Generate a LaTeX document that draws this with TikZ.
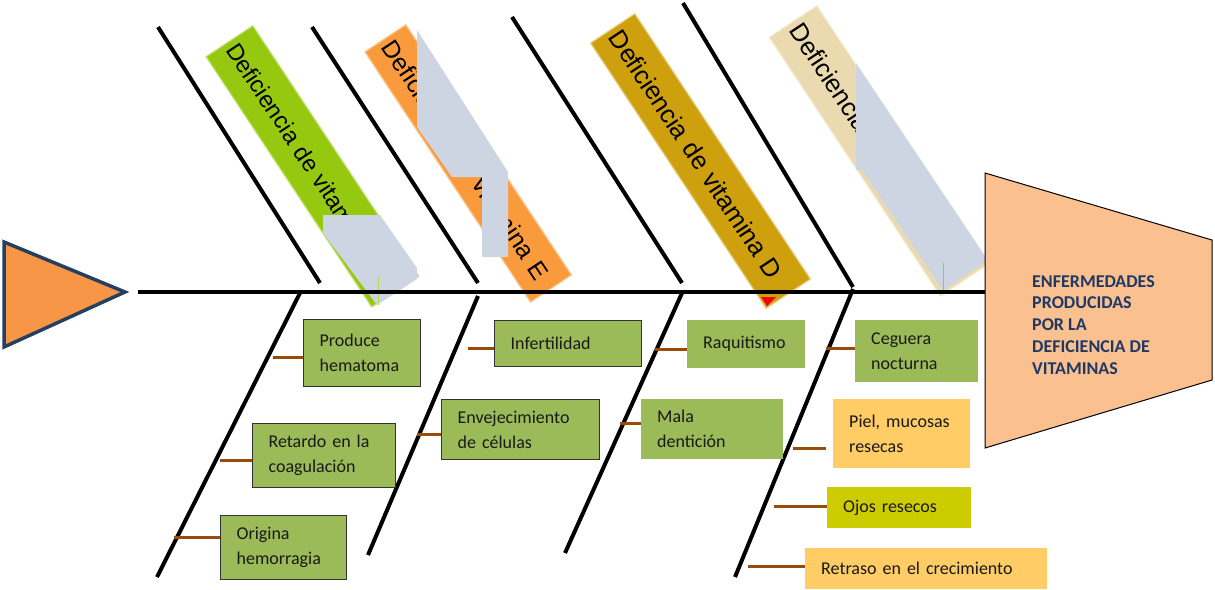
\documentclass[tikz,border=0pt]{standalone}
\usepackage{fontspec}
\setmainfont{Carlito}
\newfontfamily\headfont{Liberation Sans}
\definecolor{boxgreen}{HTML}{9BBB59}
\definecolor{tickbrown}{HTML}{994C0A}
\definecolor{labgreen}{HTML}{96C80F}
\definecolor{laborange}{HTML}{F99B3D}
\definecolor{labgold}{HTML}{CFA00D}
\definecolor{labbeige}{HTML}{EBDAB0}
\definecolor{patchgrey}{HTML}{CDD5E3}
\definecolor{lightorange}{HTML}{FFCC66}
\definecolor{olive}{HTML}{CCCC00}
\definecolor{headfill}{HTML}{FAC090}
\definecolor{headtext}{HTML}{1F3864}
\definecolor{tailfill}{HTML}{F79646}
\definecolor{tailedge}{HTML}{243F60}
\begin{document}
\begin{tikzpicture}[x=1pt,y=-1pt,
  cause/.style={anchor=north west, inner xsep=16pt, inner ysep=0pt, align=left,
    font=\fontsize{18}{25}\selectfont, text=black!90},
  framed/.style={draw=black!80, line width=1.2pt},
  header/.style={rotate=-56.5, anchor=north west, inner xsep=5pt, inner ysep=0pt,
    align=left, line width=1.2pt},
  bone/.style={line width=4pt},
  tick/.style={draw=tickbrown, line width=3pt},
  patch/.style={fill=patchgrey}]
\useasboundingbox (0,0) rectangle (1215,589);

% category headers
\node[header, fill=labgreen, draw=labgreen!60!white, text width=290pt, minimum height=56pt,
  font=\headfont\fontsize{23.5}{26}\selectfont] (hK) at (253,25) {Deficiencia de vitamina K};
\node[header, fill=laborange, draw=laborange!60!white, text width=290pt, minimum height=49pt,
  font=\headfont\fontsize{24.7}{26}\selectfont] (hE) at (406,24) {Deficiencia de vitamina E};
\node[header, fill=labgold, draw=labgold!55!white, text width=308pt, minimum height=53pt,
  font=\headfont\fontsize{25.5}{28}\selectfont] (hD) at (635,13) {Deficiencia de vitamina D};
\node[header, fill=labbeige, draw=labbeige!60!white, text width=300pt, minimum height=57pt,
  font=\headfont\fontsize{25.5}{28}\selectfont] (hA) at (817,5) {Deficiencia de vitamina A};
\fill[red] (761,297) -- (776,297) -- (767,306) -- cycle;

% grey patches over the headers
\fill[patch] (323,215) -- (380,215) -- (417,268) -- (417,279) -- (377,305) -- (323,233) -- cycle;
\draw[labgreen!70!white, line width=1pt] (378,277) -- (378,305);
\fill[patch] (417,30) -- (508,172) -- (508,257) -- (482,257) -- (482,177) -- (452,177) -- (417,127) -- cycle;
\fill[patch] (856,63) -- (985,256) -- (985,262) -- (943,290) -- (862,170) -- (856,170) -- cycle;
\draw[labbeige!80!black, line width=0.8pt] (943,263) -- (943,290);

% tail and head
\draw[line width=3.5pt, draw=tailedge, fill=tailfill] (4,242) -- (125,292) -- (4,347) -- cycle;
\coordinate (tailend) at (138,292);
\coordinate (headin) at (985,292);
\draw[line width=4.5pt] (tailend) -- (headin);
\draw[fill=headfill, line width=1pt] (985,173) -- (1212,240) -- (1212,380) -- (985,448) -- cycle;
\node[anchor=north west, inner sep=0pt, align=left, text=headtext,
  font=\bfseries\fontsize{18}{21.8}\selectfont] (effect) at (1032,275)
  {ENFERMEDADES\\PRODUCIDAS\\POR LA\\DEFICIENCIA DE\\VITAMINAS};

% upper bones
\coordinate (ua1) at (158,27);  \coordinate (ub1) at (320,283);
\coordinate (ua2) at (312,27);  \coordinate (ub2) at (478,283);
\coordinate (ua3) at (512,17);  \coordinate (ub3) at (682,283);
\coordinate (ua4) at (683,3);   \coordinate (ub4) at (853,287);
\foreach \i in {1,...,4} \draw[bone] (ua\i) -- (ub\i);

% lower bones
\coordinate (la1) at (300,293); \coordinate (lb1) at (157,577);
\coordinate (la2) at (478,296); \coordinate (lb2) at (368,555);
\coordinate (la3) at (682,293); \coordinate (lb3) at (565,553);
\coordinate (la4) at (853,289); \coordinate (lb4) at (735,577);
\foreach \i in {1,...,4} \draw[bone] (la\i) -- (lb\i);

% effects, vitamin K
\node[cause, fill=boxgreen, framed, text width=85pt, minimum height=67pt] (hematoma) at (303,319) {Produce\\hematoma};
\node[cause, fill=boxgreen, framed, text width=111pt, minimum height=64pt] (coag) at (252,423) {Retardo en la\\coagulación};
\node[cause, fill=boxgreen, framed, text width=94pt, minimum height=64pt] (hemo) at (220,515) {Origina\\hemorragia};
% effects, vitamin E
\node[cause, fill=boxgreen, framed, text width=115pt, minimum height=46pt] (infert) at (494,320) {Infertilidad};
\node[cause, fill=boxgreen, framed, text width=126pt, minimum height=60pt] (envej) at (441,399) {Envejecimiento\\de células};
% effects, vitamin D
\node[cause, fill=boxgreen, text width=86pt, minimum height=48pt] (raqui) at (687,320) {Raquitismo};
\node[cause, fill=boxgreen, text width=110pt, minimum height=60pt] (denti) at (641,399) {Mala\\dentición};
% effects, vitamin A
\node[cause, fill=boxgreen, text width=91pt, minimum height=62pt] (ceguera) at (855,320) {Ceguera\\nocturna};
\node[cause, fill=lightorange, text width=105pt, minimum height=69pt] (piel) at (833,399) {Piel, mucosas\\resecas};
\node[cause, fill=olive, text width=112pt, minimum height=41pt] (ojos) at (827,487) {Ojos resecos};
\node[cause, fill=lightorange, text width=210pt, minimum height=41pt] (creci) at (805,548) {Retraso en el crecimiento};

% ticks from bones to effects
\coordinate (k1) at (273,357);  \draw[tick] (k1) -- (k1 -| hematoma.west);
\coordinate (k2) at (220,460);  \draw[tick] (k2) -- (k2 -| coag.west);
\coordinate (k3) at (174,537);  \draw[tick] (k3) -- (k3 -| hemo.west);
\coordinate (k4) at (468,348);  \draw[tick] (k4) -- (k4 -| infert.west);
\coordinate (k5) at (417,434);  \draw[tick] (k5) -- (k5 -| envej.west);
\coordinate (k6) at (655,349);  \draw[tick] (k6) -- (k6 -| raqui.west);
\coordinate (k7) at (620,423);  \draw[tick] (k7) -- (k7 -| denti.west);
\coordinate (k8) at (826,348);  \draw[tick] (k8) -- (k8 -| ceguera.west);
\coordinate (k9) at (793,448);  \draw[tick] (k9) -- ([xshift=-7pt]k9 -| piel.west);
\coordinate (k10) at (774,506); \draw[tick] (k10) -- (k10 -| ojos.west);
\coordinate (k11) at (748,566); \draw[tick] (k11) -- (k11 -| creci.west);
\end{tikzpicture}
\end{document}
